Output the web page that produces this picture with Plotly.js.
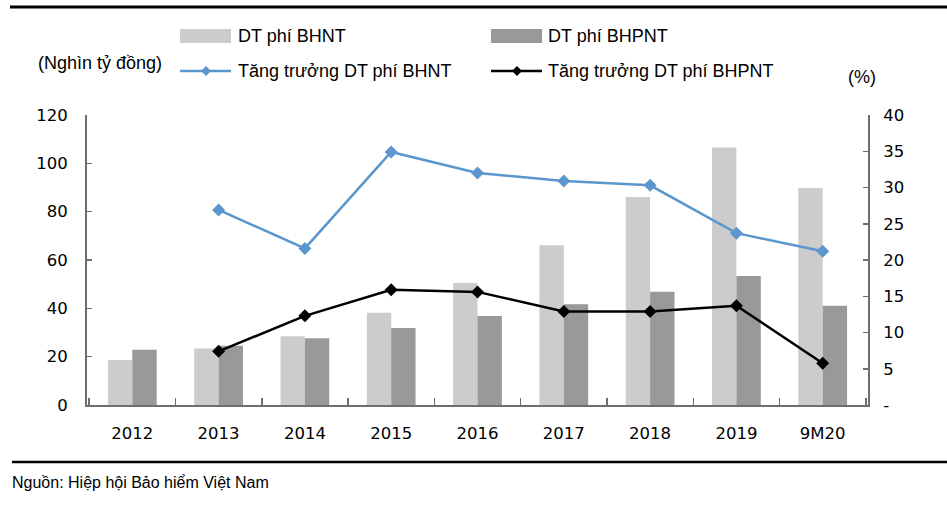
<!DOCTYPE html>
<html>
<head>
<meta charset="utf-8">
<script src="https://cdn.plot.ly/plotly-3.0.1.min.js"></script>
<style>html,body{margin:0;padding:0;background:#fff;}#chart{width:947px;height:508px;}</style>
</head>
<body>
<div id="chart"></div>
<script>
// ---- Data ----
const categories = ["2012", "2013", "2014", "2015", "2016", "2017", "2018", "2019", "9M20"];
const premiumLife = [18.6, 23.4, 28.5, 38.2, 50.5, 66.1, 86.1, 106.6, 89.8];      // DT phí BHNT (nghìn tỷ đồng)
const premiumNonLife = [22.9, 24.5, 27.6, 31.9, 36.8, 41.7, 46.9, 53.4, 41.1];    // DT phí BHPNT
const growthLife = [null, 26.9, 21.6, 34.9, 32.0, 30.9, 30.3, 23.7, 21.2];        // Tăng trưởng DT phí BHNT (%)
const growthNonLife = [null, 7.4, 12.3, 15.9, 15.6, 12.9, 12.9, 13.7, 5.75];      // Tăng trưởng DT phí BHPNT (%)
const leftTicks = [0, 20, 40, 60, 80, 100, 120];
const rightTicks = [0, 5, 10, 15, 20, 25, 30, 35, 40];
const rightTickText = ["-", "5", "10", "15", "20", "25", "30", "35", "40"];
const seriesNames = ["DT phí BHNT", "DT phí BHPNT", "Tăng trưởng DT phí BHNT", "Tăng trưởng DT phí BHPNT"];
const unitLeft = "(Nghìn tỷ đồng)";
const unitRight = "(%)";
const sourceText = "Nguồn: Hiệp hội Bảo hiểm Việt Nam";

// ---- Layout geometry (pixels) ----
const W = 947, H = 508;
const L = 87, R = 868, T = 115, B = 405;
const px = x => (x - L) / (R - L);
const py = y => (B - y) / (B - T);

const cLight = "#cccccc", cDark = "#999999", cBlue = "#5b96cc", cBlack = "#000000";
const tickFont = {family: "DejaVu Sans, Verdana, sans-serif", size: 16.5, color: "#000"};
const legFont = {family: "Liberation Sans, Arial, sans-serif", size: 18, color: "#000"};

const traces = [
  {type: "bar", x: categories, y: premiumLife, name: seriesNames[0], marker: {color: cLight}, yaxis: "y", hoverinfo: "y"},
  {type: "bar", x: categories, y: premiumNonLife, name: seriesNames[1], marker: {color: cDark}, yaxis: "y", hoverinfo: "y"},
  {type: "scatter", mode: "lines+markers", x: categories, y: growthLife, name: seriesNames[2], yaxis: "y2",
   line: {color: cBlue, width: 2.5}, marker: {symbol: "diamond", size: 10, color: cBlue}},
  {type: "scatter", mode: "lines+markers", x: categories, y: growthNonLife, name: seriesNames[3], yaxis: "y2",
   line: {color: cBlack, width: 2.5}, marker: {symbol: "diamond", size: 10, color: cBlack}}
];

function diamond(cx, cy, r, color) {
  return {type: "path", xref: "paper", yref: "paper",
    path: `M ${px(cx)} ${py(cy - r)} L ${px(cx + r)} ${py(cy)} L ${px(cx)} ${py(cy + r)} L ${px(cx - r)} ${py(cy)} Z`,
    fillcolor: color, line: {width: 0}};
}

const shapes = [
  // top and bottom rules
  {type: "line", xref: "paper", yref: "paper", x0: px(10), x1: px(947), y0: py(7), y1: py(7), line: {color: "#000", width: 3}},
  {type: "line", xref: "paper", yref: "paper", x0: px(12), x1: px(947), y0: py(462), y1: py(462), line: {color: "#000", width: 2.5}},
  // legend swatches
  {type: "rect", xref: "paper", yref: "paper", x0: px(180), x1: px(231), y0: py(29), y1: py(43), fillcolor: cLight, line: {width: 0}},
  {type: "rect", xref: "paper", yref: "paper", x0: px(491), x1: px(542), y0: py(29), y1: py(43), fillcolor: cDark, line: {width: 0}},
  {type: "line", xref: "paper", yref: "paper", x0: px(180), x1: px(231), y0: py(71), y1: py(71), line: {color: cBlue, width: 2.5}},
  {type: "line", xref: "paper", yref: "paper", x0: px(491), x1: px(542), y0: py(71), y1: py(71), line: {color: cBlack, width: 2.5}},
  diamond(206, 71, 5, cBlue),
  diamond(517, 71, 5, cBlack)
];

function ann(text, x, y, font, anchor) {
  return {text: text, xref: "paper", yref: "paper", x: px(x), y: py(y), xanchor: anchor || "left", yanchor: "middle",
    showarrow: false, font: font};
}

const annotations = [
  ann(seriesNames[0], 236, 36, legFont),
  ann(seriesNames[1], 546, 36, legFont),
  ann(seriesNames[2], 236, 71, legFont),
  ann(seriesNames[3], 546, 71, legFont),
  ann(unitLeft, 36, 63, legFont),
  ann(unitRight, 846, 77, legFont),
  ann(sourceText, 10, 482, {family: "Liberation Sans, Arial, sans-serif", size: 16, color: "#000"})
];

const layout = {
  width: W, height: H,
  margin: {l: L, r: W - R, t: T, b: H - B, pad: 0},
  paper_bgcolor: "#fff", plot_bgcolor: "#fff",
  showlegend: false,
  barmode: "group", bargap: 0.435, bargroupgap: 0,
  xaxis: {type: "category", showgrid: false, zeroline: false, showline: true, linecolor: "#6e6e6e", linewidth: 2,
    ticks: "inside", tickson: "boundaries", ticklen: 7, tickcolor: "#6e6e6e", tickwidth: 1.5,
    tickfont: tickFont, ticklabelstandoff: 12, fixedrange: true},
  yaxis: {range: [0, 120], tickvals: leftTicks, showgrid: false, zeroline: false, showline: true, linecolor: "#6e6e6e", linewidth: 2,
    ticks: "inside", ticklen: 5, tickcolor: "#6e6e6e", tickwidth: 1.5, tickfont: tickFont, ticklabelstandoff: 14, fixedrange: true},
  yaxis2: {range: [0, 40], tickvals: rightTicks, ticktext: rightTickText, overlaying: "y", side: "right", showgrid: false, zeroline: false,
    showline: true, linecolor: "#6e6e6e", linewidth: 2, ticks: "inside", ticklen: 5, tickcolor: "#6e6e6e", tickwidth: 1.5,
    tickfont: tickFont, ticklabelstandoff: 10, fixedrange: true},
  shapes: shapes,
  annotations: annotations
};

Plotly.newPlot("chart", traces, layout, {staticPlot: true, displayModeBar: false});
</script>
</body>
</html>
